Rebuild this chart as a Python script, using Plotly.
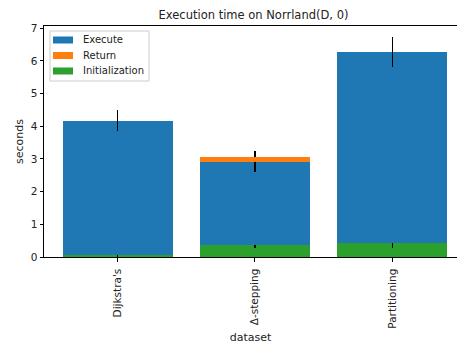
import plotly.graph_objects as go

categories = ["Dijkstra's", "Δ-stepping", "Partitioning"]
init_vals = [0.05, 0.36, 0.44]
init_err = [0.05, 0.07, 0.15]
exec_vals = [4.12, 2.55, 5.83]
exec_err = [0.32, 0.32, 0.46]
return_vals = [0.0, 0.15, 0.0]
return_err = [0.0, 0.0, 0.0]

legend_names = ["Execute", "Return", "Initialization"]
legend_colors = ["#1f77b4", "#ff7f0e", "#2ca02c"]

FONT = "DejaVu Sans"
TXT = "#222222"
W, H = 457, 347
L, R, T, B = 44, 0, 26, 90
PW, PH = W - L - R, H - T - B

def px(x):
    return (x - L) / PW

def py(y):
    return (H - B - y) / PH

fig = go.Figure()

def add(name, vals, err, color):
    fig.add_trace(go.Bar(
        x=categories, y=vals, name=name, marker=dict(color=color, line=dict(width=0)),
        error_y=dict(type="data", array=err, color="black", thickness=1.5, width=0,
                     visible=True),
        showlegend=False, width=0.8))

add("Initialization", init_vals, init_err, "#2ca02c")
add("Execute", exec_vals, exec_err, "#1f77b4")
add("Return", return_vals, return_err, "#ff7f0e")

# legend box (drawn manually to match the compact matplotlib legend)
fig.add_shape(type="rect", xref="paper", yref="paper", x0=px(50), x1=px(149),
              y0=py(81), y1=py(31),
              fillcolor="rgba(255,255,255,0.8)", line=dict(color="#cccccc", width=1),
              layer="above")
for i, (name, col) in enumerate(zip(legend_names, legend_colors)):
    cy = 40 + i * 15.5
    fig.add_shape(type="rect", xref="paper", yref="paper",
                  x0=px(53), x1=px(73), y0=py(cy + 3.5), y1=py(cy - 3.5),
                  fillcolor=col, line=dict(width=0), layer="above")
    fig.add_annotation(xref="paper", yref="paper", x=px(81), y=py(cy), text=name,
                       showarrow=False, xanchor="left", yanchor="middle",
                       font=dict(size=10, family=FONT, color=TXT))

fig.update_layout(
    width=W, height=H,
    barmode="stack",
    showlegend=False,
    plot_bgcolor="white", paper_bgcolor="white",
    margin=dict(l=L, r=R, t=T, b=B, autoexpand=False),
    font=dict(family=FONT, size=10, color=TXT),
    title=dict(text="Execution time on Norrland(D, 0)", x=(253.5 - L) / PW,
               xanchor="center", xref="paper", y=1 - 15 / H, yanchor="middle",
               font=dict(size=11.5, family=FONT, color=TXT)),
    xaxis=dict(range=[-0.535, 2.47], showline=True, linecolor="black", linewidth=1,
               mirror=True, ticks="outside", ticklen=3.5, tickcolor="black",
               tickangle=-90, showgrid=False, automargin=False,
               tickfont=dict(size=10.5, family=FONT, color=TXT), ticklabelstandoff=3,
               title=dict(text="dataset", standoff=5,
                          font=dict(size=11, family=FONT, color=TXT))),
    yaxis=dict(range=[0, 7.07], showline=True, linecolor="black", linewidth=1,
               ticks="outside", ticklen=3.5, tickcolor="black", dtick=1,
               showgrid=False, zeroline=False, automargin=False,
               tickfont=dict(size=10.5, family=FONT, color=TXT),
               title=dict(text="seconds", standoff=4,
                          font=dict(size=11, family=FONT, color=TXT))),
)

fig.write_html("out.html", config={"displayModeBar": False},
               post_script="document.body.style.margin='0';document.body.style.overflow='hidden';")
